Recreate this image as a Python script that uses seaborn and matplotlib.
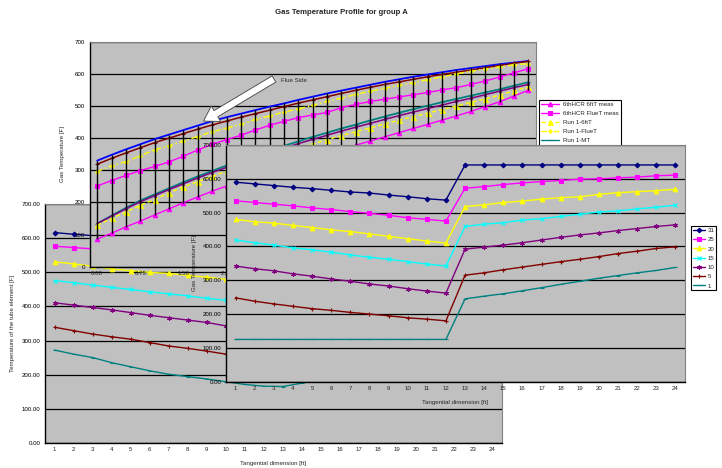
import matplotlib
matplotlib.use("Agg")
import matplotlib.pyplot as plt
from matplotlib.lines import Line2D
from matplotlib.ticker import FixedLocator, FuncFormatter
import seaborn as sns

sns.set_style("white")
plt.rcParams["font.family"] = ["Liberation Sans", "DejaVu Sans"]

# ---------------- group A gas temperature profile (back chart) ----------------
dist_ft = [0.00, 0.25, 0.50, 0.75, 1.00, 1.25, 1.50, 1.75, 2.00, 2.25, 2.50,
           2.75, 3.00, 3.25, 3.50, 3.75, 4.00, 4.25, 4.50, 4.75, 5.00, 5.25,
           5.50, 5.75, 6.00, 6.25, 6.50, 6.75, 7.00, 7.25, 7.50]

hcr_6ft_meas = [86, 104, 124, 142, 161, 180, 199, 217, 235, 251, 266, 281, 296, 310, 324,
                338, 352, 365, 378, 391, 404, 417, 430, 443, 456, 469, 483, 498, 513, 531, 549]
hcr_flue_meas = [251, 268, 284, 299, 312, 326, 344, 363, 381, 395, 409, 425, 440, 452, 464,
                 472, 480, 495, 505, 514, 521, 528, 535, 542, 550, 557, 567, 578, 590, 603, 616]
run1_6ft = [129, 150, 170, 191, 209, 230, 248, 265, 281, 297, 312, 327, 341, 355, 369,
            382, 395, 408, 420, 432, 444, 456, 467, 478, 489, 500, 511, 522, 534, 547, 559]
run1_flue = [296, 314, 327, 345, 364, 376, 391, 405, 420, 431, 443, 458, 469, 481, 491,
             502, 514, 525, 536, 546, 555, 564, 573, 582, 591, 600, 608, 615, 622, 628, 632]
run1_mt = [134, 159, 183, 206, 225, 244, 263, 281, 298, 315, 331, 347, 362, 376, 390,
           404, 417, 430, 442, 455, 467, 479, 490, 501, 512, 522, 532, 542, 552, 563, 574]
run1_mf = [330, 348, 365, 381, 397, 411, 425, 439, 453, 465, 476, 487, 498, 508, 519,
           529, 539, 548, 557, 566, 575, 583, 591, 598, 605, 612, 618, 624, 630, 635, 640]
run2_6ft = [134, 157, 180, 202, 221, 240, 258, 276, 293, 309, 325, 340, 355, 369, 383,
            396, 409, 422, 434, 446, 458, 470, 481, 492, 503, 514, 524, 535, 546, 557, 567]
run2_flue = [319, 337, 354, 370, 386, 400, 414, 428, 441, 453, 465, 476, 487, 498, 509,
             519, 529, 539, 549, 558, 567, 575, 583, 591, 598, 605, 612, 619, 626, 633, 639]

# ---------------- tube element and gas temperatures by row ----------------
tangential = [1, 2, 3, 4, 5, 6, 7, 8, 9, 10, 11, 12,
              13, 14, 15, 16, 17, 18, 19, 20, 21, 22, 23, 24]
row_labels = ["31", "25", "20", "15", "10", "5", "1"]

tube_31 = [617, 612, 608, 604, 600, 596, 592, 588, 584, 580, 576, 572,
           570, 575, 580, 585, 590, 594, 598, 602, 606, 610, 614, 617]
tube_25 = [577, 573, 569, 565, 561, 557, 553, 549, 545, 541, 537, 533,
           531, 537, 543, 549, 555, 560, 565, 570, 575, 580, 584, 588]
tube_20 = [531, 525, 518, 510, 505, 500, 497, 491, 486, 480, 474, 469,
           467, 474, 481, 488, 495, 501, 507, 513, 519, 525, 530, 535]
tube_15 = [476, 470, 463, 456, 450, 443, 437, 431, 424, 418, 412, 406,
           404, 412, 420, 428, 435, 443, 450, 457, 464, 470, 476, 482]
tube_10 = [411, 404, 397, 390, 382, 374, 367, 360, 353, 343, 336, 329,
           327, 336, 345, 354, 362, 371, 379, 387, 395, 402, 409, 416]
tube_5 = [339, 329, 319, 311, 304, 294, 284, 277, 269, 260, 252, 245,
          243, 252, 262, 271, 280, 289, 298, 306, 314, 322, 330, 337]
tube_1 = [272, 260, 250, 235, 223, 211, 201, 194, 187, 179, 171, 166,
          165, 175, 186, 196, 207, 217, 227, 236, 245, 254, 262, 270]

gas_31 = [590, 585, 580, 575, 571, 566, 561, 558, 552, 547, 541, 537,
          641, 641, 641, 641, 641, 641, 641, 641, 641, 641, 641, 641]
gas_25 = [535, 530, 525, 520, 514, 509, 503, 498, 492, 485, 480, 475,
          572, 577, 583, 588, 592, 595, 599, 600, 603, 605, 609, 611]
gas_20 = [480, 473, 469, 462, 456, 449, 444, 437, 430, 423, 416, 410,
          518, 523, 530, 534, 540, 544, 547, 554, 559, 562, 565, 569]
gas_15 = [419, 411, 404, 396, 390, 383, 375, 368, 362, 355, 348, 342,
          459, 466, 470, 478, 482, 489, 495, 502, 505, 511, 516, 522]
gas_10 = [342, 334, 328, 319, 312, 304, 297, 289, 283, 275, 268, 262,
          392, 398, 404, 411, 419, 427, 434, 440, 447, 453, 459, 464]
gas_5 = [248, 238, 230, 223, 216, 211, 205, 200, 195, 189, 185, 180,
         315, 322, 331, 339, 347, 355, 362, 370, 379, 386, 394, 399]
gas_1 = [125, 125, 125, 125, 125, 125, 125, 125, 125, 125, 125, 125,
         245, 253, 260, 269, 278, 288, 297, 306, 314, 322, 329, 338]

NAVY, MAG, YEL, CYAN = "#000080", "#FF00FF", "#FFFF00", "#00FFFF"
PURP, DRED, TEAL, BLUE = "#800080", "#800000", "#008080", "#0000FF"
PLOT_BG = "#C0C0C0"
FS = 4.4

W, H = 722, 468
fig = plt.figure(figsize=(W / 100, H / 100), dpi=100)
fig.patch.set_facecolor("white")


def rect(x0, y0, x1, y1):
    return [x0 / W, 1 - y1 / H, (x1 - x0) / W, (y1 - y0) / H]


def style_axes(ax, ylabel_fmt):
    ax.set_facecolor(PLOT_BG)
    ax.set_ylim(0, 700)
    ax.yaxis.set_major_locator(FixedLocator([0, 100, 200, 300, 400, 500, 600, 700]))
    ax.yaxis.set_major_formatter(FuncFormatter(ylabel_fmt))
    ax.yaxis.grid(True, color="black", linewidth=0.9)
    ax.xaxis.grid(False)
    ax.set_axisbelow(True)
    for side in ("left", "bottom"):
        ax.spines[side].set_color("black")
        ax.spines[side].set_linewidth(1.0)
    for side in ("top", "right"):
        ax.spines[side].set_color("#808080")
        ax.spines[side].set_linewidth(0.8)
    ax.tick_params(axis="y", length=2, width=0.7, pad=1.5, labelsize=FS, colors="black")
    ax.tick_params(axis="x", which="major", length=0, pad=3, labelsize=FS)
    ax.tick_params(axis="x", which="minor", length=2, width=0.7)


def series(ax, x, y, color, marker, ms, ls="-", lw=1.0, mew=0.8, z=3):
    sns.lineplot(x=x, y=y, ax=ax, color=color, marker=marker, markersize=ms,
                 linestyle=ls, linewidth=lw, markeredgecolor=color,
                 markerfacecolor=color, markeredgewidth=mew, legend=False,
                 estimator=None, sort=False, zorder=z)


def handle(color, marker, ms, ls="-", lw=1.0):
    return Line2D([], [], color=color, marker=marker, markersize=ms, linestyle=ls,
                  linewidth=lw, markeredgecolor=color, markerfacecolor=color,
                  markeredgewidth=0.8)


row_styles = [(NAVY, "D", 2.4), (MAG, "s", 2.4), (YEL, "^", 3.3), (CYAN, "x", 2.8),
              (PURP, (6, 2, 0), 3.2), (DRED, "+", 3.4), (TEAL, "_", 2.8)]

# ---------------- tube element chart (middle layer) ----------------
ax_mid = fig.add_axes(rect(45, 204.3, 502, 442.7), zorder=1)
style_axes(ax_mid, lambda v, p: f"{v:.2f}")
ax_mid.set_xlim(0.5, 24.5)
ax_mid.xaxis.set_major_locator(FixedLocator(tangential))
ax_mid.xaxis.set_minor_locator(FixedLocator([t + 0.5 for t in tangential[:-1]]))
ax_mid.set_xticklabels([str(t) for t in tangential])
tube_rows = [tube_31, tube_25, tube_20, tube_15, tube_10, tube_5, tube_1]
for vals, (c, m, ms) in zip(tube_rows, row_styles):
    series(ax_mid, tangential, vals, c, m, ms)
ax_mid.set_xlabel("Tangential dimension [ft]", fontsize=FS)
ax_mid.xaxis.set_label_coords(0.5, -0.075)
ax_mid.set_ylabel("Temperature of the tube element [F]", fontsize=FS)
ax_mid.yaxis.set_label_coords(-0.066, 0.5)

# ---------------- group A profile (back chart, drawn over the middle one) ----------------
ax_back = fig.add_axes(rect(90, 41.7, 535.5, 266.7), zorder=2)
style_axes(ax_back, lambda v, p: f"{v:.0f}")
idx = list(range(len(dist_ft)))

back_all = [hcr_6ft_meas, hcr_flue_meas, run1_6ft, run1_flue,
            run1_mt, run1_mf, run2_6ft, run2_flue]
lows = [min(col) for col in zip(*back_all)]
highs = [max(col) for col in zip(*back_all)]
# high-low lines joining the extremes at each position
ax_back.vlines(idx, lows, highs, colors="black", linewidths=1.0, zorder=10)

series(ax_back, idx, run1_mt, TEAL, "_", 2.3, lw=1.3)
series(ax_back, idx, run2_6ft, PURP, "x", 1.8, lw=1.1)
series(ax_back, idx, run1_mf, BLUE, None, 0, lw=1.3)
series(ax_back, idx, run2_flue, DRED, "+", 3.0, lw=1.1)
series(ax_back, idx, run1_6ft, YEL, "^", 3.6, ls=(0, (3, 2)), lw=1.0)
series(ax_back, idx, run1_flue, YEL, "P", 2.4, ls=(0, (4, 2, 1, 2)), lw=1.0)
series(ax_back, idx, hcr_6ft_meas, MAG, "^", 3.2, lw=1.0)
series(ax_back, idx, hcr_flue_meas, MAG, "s", 2.2, lw=1.0)

ax_back.set_xlim(-0.5, len(dist_ft) - 0.5)
ax_back.xaxis.set_major_locator(FixedLocator(idx[::3]))
ax_back.set_xticklabels([f"{d:.2f}" for d in dist_ft[::3]])
ax_back.xaxis.set_minor_locator(FixedLocator([i + 0.5 for i in idx[:-1]]))

ax_back.set_ylabel("Gas Temperature [F]", fontsize=FS)
ax_back.yaxis.set_label_coords(-0.056, 0.5)
ax_back.set_xlabel("Tangential dimension [ft]", fontsize=FS)

back_handles = [handle(MAG, "^", 3.2), handle(MAG, "s", 2.2),
                handle(YEL, "^", 3.6, ls=(0, (3, 2))), handle(YEL, "P", 2.4, ls=(0, (4, 2, 1, 2))),
                handle(TEAL, "_", 2.3), handle(BLUE, None, 0), handle(PURP, "x", 1.8),
                handle(DRED, "+", 3.0)]
back_labels = ["6thHCR 6ftT meas", "6thHCR FlueT meas", "Run 1-6ftT", "Run 1-FlueT",
               "Run 1-MT", "Run 1-MFT", "Run 2-6ftT", "Run 2-FlueT"]
leg_b = ax_back.legend(back_handles, back_labels, loc="upper left",
                       bbox_to_anchor=(539 / W, 1 - 99.5 / H), bbox_transform=fig.transFigure,
                       fontsize=FS, frameon=True, fancybox=False, edgecolor="black",
                       framealpha=1, handlelength=3.0, handletextpad=0.6,
                       borderpad=0.35, labelspacing=0.6, borderaxespad=0)
leg_b.get_frame().set_linewidth(0.8)

ax_back.annotate("", xy=(7.4, 453), xytext=(12.3, 584), xycoords="data",
                 arrowprops=dict(arrowstyle="simple,head_length=0.8,head_width=1.0,tail_width=0.4",
                                 fc="white", ec="#404040", lw=0.6, mutation_scale=13,
                                 shrinkA=0, shrinkB=0), zorder=12)
ax_back.text(12.8, 578, "Flue Side", fontsize=FS, ha="left", va="center", zorder=12)

# ---------------- gas temperature by row (front chart) ----------------
ax_front = fig.add_axes(rect(226, 145, 685, 381.7), zorder=3)
style_axes(ax_front, lambda v, p: f"{v:.2f}")
gas_rows = [gas_31, gas_25, gas_20, gas_15, gas_10, gas_5, gas_1]
for vals, (c, m, ms) in zip(gas_rows, row_styles):
    series(ax_front, tangential, vals, c, m, ms)
ax_front.set_xlim(0.5, 24.5)
ax_front.xaxis.set_major_locator(FixedLocator(tangential))
ax_front.xaxis.set_minor_locator(FixedLocator([t + 0.5 for t in tangential[:-1]]))
ax_front.set_xticklabels([str(t) for t in tangential])
ax_front.set_xlabel("Tangential dimension [ft]", fontsize=FS)
ax_front.xaxis.set_label_coords(0.5, -0.077)
ax_front.set_ylabel("Gas Temperature [F]", fontsize=FS)
ax_front.yaxis.set_label_coords(-0.063, 0.5)

front_handles = [handle(c, m, ms) for (c, m, ms) in row_styles]
leg_f = ax_front.legend(front_handles, row_labels, loc="upper left",
                        bbox_to_anchor=(691 / W, 1 - 226 / H), bbox_transform=fig.transFigure,
                        fontsize=FS, frameon=True, fancybox=False, edgecolor="black",
                        framealpha=1, handlelength=2.0, handletextpad=0.4,
                        borderpad=0.3, labelspacing=0.65, borderaxespad=0)
leg_f.get_frame().set_linewidth(0.8)

fig.text(341 / W, 1 - 13 / H, "Gas Temperature Profile for group A", ha="center",
         va="center", fontsize=5.6, fontweight="bold")

fig.savefig("out.png", dpi=100)
